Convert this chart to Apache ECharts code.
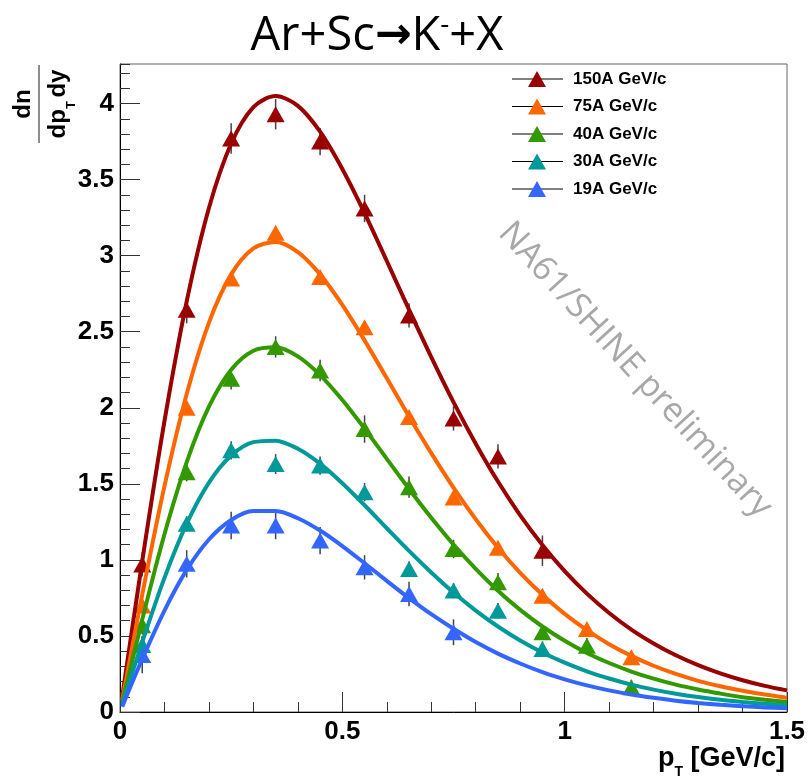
<!DOCTYPE html>
<html><head><meta charset="utf-8">
<script src="https://cdn.jsdelivr.net/npm/echarts@6/dist/echarts.min.js"></script>
<style>html,body{margin:0;padding:0;background:#fff}#c{width:809px;height:777px}</style>
</head><body><div id="c"></div>
<script>
// ---- data ----
const seriesNames = ['150A GeV/c', '75A GeV/c', '40A GeV/c', '30A GeV/c', '19A GeV/c'];
const seriesColors = ['#990000', '#ff6600', '#339900', '#009999', '#3366ff'];
const pointX = [0.05, 0.15, 0.25, 0.35, 0.45, 0.55, 0.65, 0.75, 0.85, 0.95, 1.05, 1.15];

const y150 = [0.97, 2.645, 3.77, 3.93, 3.75, 3.31, 2.607, 1.93, 1.68, 1.06];
const y75  = [0.70, 2.0, 2.85, 3.15, 2.86, 2.53, 1.94, 1.41, 1.08, 0.765, 0.546, 0.36];
const y40  = [0.57, 1.576, 2.19, 2.40, 2.245, 1.86, 1.478, 1.072, 0.853, 0.524, 0.436, 0.162];
const y30  = [0.44, 1.237, 1.72, 1.63, 1.62, 1.445, 0.94, 0.798, 0.666, 0.414];
const y19  = [0.375, 0.974, 1.226, 1.226, 1.127, 0.951, 0.776, 0.524];

const err150 = [0.08, 0.09, 0.1, 0.1, 0.09, 0.09, 0.08, 0.08, 0.08, 0.1];
const err75  = [0.04, 0.04, 0.04, 0.04, 0.04, 0.04, 0.04, 0.04, 0.04, 0.04, 0.04, 0.04];
const err40  = [0.06, 0.06, 0.07, 0.07, 0.07, 0.09, 0.07, 0.06, 0.06, 0.05, 0.05, 0.05];
const err30  = [0.06, 0.05, 0.06, 0.065, 0.06, 0.06, 0.05, 0.05, 0.05, 0.05];
const err19  = [0.12, 0.09, 0.09, 0.09, 0.09, 0.08, 0.08, 0.085];

const curveX = [0.005, 0.05, 0.10, 0.15, 0.20, 0.25, 0.30, 0.35, 0.40, 0.45, 0.50, 0.55, 0.60, 0.65, 0.70, 0.75,
  0.80, 0.85, 0.90, 0.95, 1.00, 1.05, 1.10, 1.15, 1.20, 1.25, 1.30, 1.35, 1.40, 1.45, 1.50];
const fit150 = [0.10, 0.992, 1.912, 2.699, 3.313, 3.737, 3.977, 4.049, 3.985, 3.815, 3.570, 3.280, 2.965, 2.645, 2.333, 2.037,
  1.764, 1.515, 1.293, 1.098, 0.926, 0.778, 0.651, 0.542, 0.451, 0.373, 0.308, 0.254, 0.209, 0.172, 0.142];
const fit75 = [0.078, 0.771, 1.485, 2.091, 2.560, 2.877, 3.048, 3.089, 3.023, 2.877, 2.676, 2.443, 2.194, 1.943, 1.702, 1.475,
  1.267, 1.080, 0.915, 0.771, 0.645, 0.538, 0.446, 0.369, 0.304, 0.250, 0.205, 0.169, 0.140, 0.115, 0.094];
const fit40 = [0.062, 0.608, 1.169, 1.643, 2.007, 2.250, 2.375, 2.398, 2.338, 2.215, 2.051, 1.863, 1.664, 1.466, 1.277, 1.101,
  0.941, 0.797, 0.671, 0.562, 0.468, 0.388, 0.322, 0.266, 0.219, 0.180, 0.148, 0.121, 0.097, 0.080, 0.066];
const fit30 = [0.047, 0.459, 0.882, 1.238, 1.508, 1.686, 1.774, 1.784, 1.731, 1.633, 1.504, 1.359, 1.208, 1.059, 0.917, 0.785,
  0.667, 0.562, 0.470, 0.391, 0.324, 0.267, 0.220, 0.180, 0.147, 0.120, 0.098, 0.080, 0.066, 0.054, 0.045];
const fit19 = [0.035, 0.348, 0.667, 0.934, 1.134, 1.262, 1.321, 1.321, 1.274, 1.193, 1.091, 0.978, 0.862, 0.749, 0.643, 0.547,
  0.460, 0.384, 0.319, 0.262, 0.215, 0.175, 0.142, 0.115, 0.093, 0.074, 0.059, 0.047, 0.038, 0.030, 0.025];

const xTitle = ['p', 'T', ' [GeV/c]'];
const yTitleNum = 'dn';
const yTitleDen = ['dp', 'T ', 'dy'];
const chartTitle = ['Ar+Sc', '→', 'K', '-', '+X'];
const watermark = 'NA61/SHINE preliminary';

// ---- build ----
const pointSets = [y150, y75, y40, y30, y19];
const errSets = [err150, err75, err40, err30, err19];
const fitSets = [fit150, fit75, fit40, fit30, fit19];

const series = [];
pointSets.forEach((ys, i) => {
  series.push({
    type: 'custom',
    name: seriesNames[i] + ' err',
    z: 2,
    silent: true,
    data: ys.map((v, k) => [pointX[k], v, errSets[i][k]]),
    renderItem: (params, api) => {
      const x = api.value(0), y = api.value(1), e = api.value(2);
      const p1 = api.coord([x, y - e]);
      const p2 = api.coord([x, y + e]);
      return {
        type: 'line',
        shape: { x1: p1[0], y1: p1[1], x2: p2[0], y2: p2[1] },
        style: { stroke: '#444', lineWidth: 1.5 }
      };
    }
  });
  series.push({
    type: 'scatter',
    name: seriesNames[i],
    z: 3,
    symbol: 'triangle',
    symbolSize: [18, 16],
    itemStyle: { color: seriesColors[i], opacity: 1 },
    data: ys.map((v, k) => [pointX[k], v])
  });
  series.push({
    type: 'line',
    name: seriesNames[i] + ' fit',
    z: 4,
    showSymbol: false,
    smooth: 0.3,
    silent: true,
    lineStyle: { color: seriesColors[i], width: 4 },
    data: fitSets[i].map((v, k) => [curveX[k], v])
  });
});

const labelFont = { fontFamily: 'Liberation Sans, Arial, sans-serif', fontWeight: 'bold', color: '#000' };

const option = {
  animation: false,
  backgroundColor: '#fff',
  grid: { left: 120, right: 22, top: 64, bottom: 65, show: true, borderColor: '#666', borderWidth: 1, backgroundColor: 'transparent' },
  xAxis: [{
    type: 'value', min: 0, max: 1.5, interval: 0.5,
    axisLine: { show: true, onZero: false, lineStyle: { color: '#000', width: 1 } },
    axisTick: { show: true, inside: true, length: 20, lineStyle: { color: '#333', width: 1 } },
    minorTick: { show: true, splitNumber: 5, length: 10, lineStyle: { color: '#333', width: 1 } },
    splitLine: { show: false },
    axisLabel: Object.assign({ fontSize: 26, margin: 7 }, labelFont)
  }],
  yAxis: [{
    type: 'value', min: 0, max: 4.26, interval: 0.5,
    axisLine: { show: true, onZero: false, lineStyle: { color: '#000', width: 1 } },
    axisTick: { show: true, inside: true, length: 20, lineStyle: { color: '#333', width: 1 } },
    splitLine: { show: false },
    axisLabel: Object.assign({ fontSize: 26, margin: 6, showMaxLabel: false }, labelFont)
  }, {
    type: 'value', min: 0, max: 4.26, interval: 0.1, position: 'left',
    axisLine: { show: false },
    axisTick: { show: true, inside: true, length: 10, lineStyle: { color: '#333', width: 1 } },
    splitLine: { show: false },
    axisLabel: { show: false }
  }],
  legend: {
    data: seriesNames,
    orient: 'vertical',
    left: 528, top: 70.5, padding: 0,
    itemWidth: 18, itemHeight: 16, itemGap: 10.5,
    icon: 'triangle',
    selectedMode: false,
    textStyle: { fontFamily: 'Liberation Sans, Arial, sans-serif', fontWeight: 'bold', fontSize: 17, color: '#000', lineHeight: 16, padding: [0, 0, 0, 22] }
  },
  graphic: [
    // legend sample lines
    ...[79, 106.5, 134, 161.5, 189].map(yy => ({
      type: 'line', z: 1, silent: true,
      shape: { x1: 512, y1: yy, x2: 563, y2: yy },
      style: { stroke: '#000', lineWidth: 1 }
    })),
    // title
    {
      type: 'text', z: 10,
      x: 377, y: 37,
      style: {
        text: '{a|' + chartTitle[0] + '}{r|' + chartTitle[1] + '}{a|' + chartTitle[2] + '}{s|' + chartTitle[3] + '}{a|' + chartTitle[4] + '}',
        align: 'center', verticalAlign: 'middle',
        rich: {
          a: { fontFamily: 'Open Sans', fontSize: 47, color: '#000' },
          r: { fontFamily: 'DejaVu Sans', fontSize: 44, fontWeight: 'bold', color: '#000' },
          s: { fontFamily: 'Open Sans', fontSize: 28, color: '#000', padding: [0, 0, 24, 0] }
        }
      }
    },
    // watermark
    {
      type: 'text', z: 1, silent: true,
      x: 635, y: 370, rotation: -47.5 * Math.PI / 180,
      style: {
        text: watermark, align: 'center', verticalAlign: 'middle',
        fontFamily: 'Open Sans', fontSize: 34, fill: '#a8a8a8'
      }
    },
    // x-axis title
    {
      type: 'text', z: 10,
      x: 785, y: 738,
      style: {
        text: '{a|' + xTitle[0] + '}{s|' + xTitle[1] + '}{a|' + xTitle[2] + '}',
        align: 'right', verticalAlign: 'top',
        rich: {
          a: { fontFamily: 'Liberation Sans', fontWeight: 'bold', fontSize: 27, color: '#000' },
          s: { fontFamily: 'Liberation Sans', fontWeight: 'bold', fontSize: 14, color: '#000', padding: [27, 0, 0, 0] }
        }
      }
    },
    // y-axis title (fraction, rotated)
    {
      type: 'group', x: 39, y: 104, rotation: Math.PI / 2, z: 10,
      children: [
        {
          type: 'text', x: 0, y: -15.5,
          style: { text: yTitleNum, align: 'center', verticalAlign: 'middle', fontFamily: 'Liberation Sans', fontWeight: 'bold', fontSize: 24, fill: '#000' }
        },
        {
          type: 'line', shape: { x1: -39, y1: 0, x2: 39, y2: 0 }, style: { stroke: '#666', lineWidth: 1.5 }
        },
        {
          type: 'text', x: 0, y: 19.5,
          style: {
            text: '{a|' + yTitleDen[0] + '}{s|' + yTitleDen[1] + '}{a|' + yTitleDen[2] + '}',
            align: 'center', verticalAlign: 'middle',
            rich: {
              a: { fontFamily: 'Liberation Sans', fontWeight: 'bold', fontSize: 24, color: '#000' },
              s: { fontFamily: 'Liberation Sans', fontWeight: 'bold', fontSize: 13, color: '#000', padding: [25, 0, 0, 0] }
            }
          }
        }
      ]
    }
  ],
  series: series
};

const chart = echarts.init(document.getElementById('c'), null, { renderer: 'canvas' });
chart.setOption(option);
</script>
</body></html>
